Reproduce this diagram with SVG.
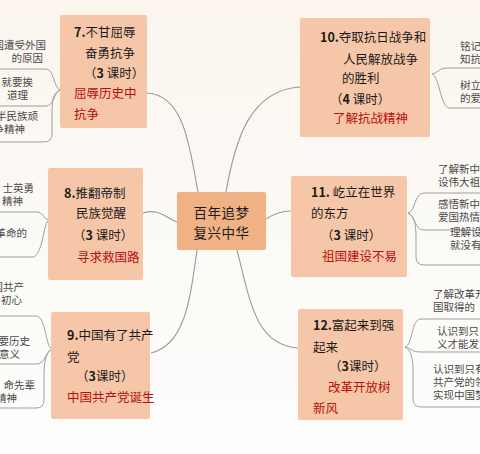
<svg xmlns="http://www.w3.org/2000/svg" width="480" height="454" viewBox="0 0 480 454">
<defs>
<linearGradient id="bg" x1="0" y1="0" x2="0" y2="1">
<stop offset="0" stop-color="#fbf5ee"/>
<stop offset="0.5" stop-color="#fcfaf6"/>
<stop offset="1" stop-color="#fdfdfc"/>
</linearGradient>
<style>
text{font-family:"Noto Sans CJK SC","Noto Sans",sans-serif;}
.box{fill:#f6c6a8;}
.center{fill:#f0b184;}
.t{font-size:12.5px;fill:#1a1a1a;}
.r{font-size:12.5px;fill:#b5100f;}
.c{font-size:13.5px;fill:#1a1a1a;letter-spacing:0.5px;}
.b{font-weight:bold;}
.leaf{font-size:10.5px;fill:#4a4a4a;}
.con{fill:none;stroke:#9a9a9a;stroke-width:1.1;}
.lf{fill:none;stroke:#a0a0a0;stroke-width:1;}
</style>
</defs>
<rect width="480" height="454" fill="url(#bg)"/>

<g id="connectors">
<path class="con" d="M147,93 C185,95 190,150 198,192"/>
<path class="con" d="M226,192 C235,140 250,90 300,87"/>
<path class="con" d="M143,213 C160,208 165,218 177,222"/>
<path class="con" d="M266,219 C275,213 282,211 291,211"/>
<path class="con" d="M197,250 C190,300 185,345 151,353"/>
<path class="con" d="M237,250 C250,300 255,345 298,348"/>
<path class="lf" d="M60,90 C54,88 54,69 46,69 H-2"/>
<path class="lf" d="M60,90 C54,92 54,106 46,106 H-2"/>
<path class="lf" d="M60,90 C53,93 52,100 52,115 L52,134 Q52,142 44,142 H-2"/>
<path class="lf" d="M49,220 C42,218 44,212 36,212 H-2"/>
<path class="lf" d="M49,220 C43,223 44,250 34,257 H-2"/>
<path class="lf" d="M52,349 C45,346 46,316 36,316 H-2"/>
<path class="lf" d="M52,349 C45,352 46,364 36,364 H-2"/>
<path class="lf" d="M52,349 C44,353 44,368 44,380 L44,400 Q44,408 36,408 H-2"/>
<path class="lf" d="M432,74 C440,72 438,68 448,68 H482"/>
<path class="lf" d="M432,74 C440,77 440,108 450,108 H482"/>
<path class="lf" d="M408,213 C416,211 414,193 424,193 H482"/>
<path class="lf" d="M408,213 C416,216 414,230 424,230 H482"/>
<path class="lf" d="M408,213 C415,217 416,225 416,240 L416,257 Q416,265 424,265 H482"/>
<path class="lf" d="M405,347 C413,345 411,319 421,319 H482"/>
<path class="lf" d="M405,347 C413,349 411,352 421,352 H482"/>
<path class="lf" d="M405,347 C412,351 413,360 413,372 L413,399 Q413,407 421,407 H482"/>
</g>

<g id="center">
<rect class="center" x="177" y="192" width="89" height="58" rx="2"/>
<text class="c" x="221.5" y="218" text-anchor="middle">百年追梦<tspan x="221.5" dy="20">复兴中华</tspan></text>
</g>

<g id="node7">
<rect class="box" x="60" y="15" width="87" height="113" rx="2"/>
<text class="t" x="74" y="37"><tspan class="b">7.</tspan>不甘屈辱</text>
<text class="t" x="85" y="58">奋勇抗争</text>
<text class="t" x="84" y="78">（<tspan class="b">3</tspan> 课时）</text>
<text class="r" x="74" y="98">屈辱历史中<tspan x="74" dy="21">抗争</tspan></text>
</g>
<g id="leaves7">
<text class="leaf" x="46" y="49" text-anchor="end">国遭受外国<tspan x="43" dy="13">的原因</tspan></text>
<text class="leaf" x="33" y="86" text-anchor="end">就要挨<tspan x="28" dy="13">道理</tspan></text>
<text class="leaf" x="38" y="120" text-anchor="end">半民族顽<tspan x="25" dy="13">争精神</tspan></text>
</g>

<g id="node8">
<rect class="box" x="48" y="168" width="95" height="112" rx="2"/>
<text class="t" x="64" y="198"><tspan class="b">8.</tspan>推翻帝制</text>
<text class="t" x="76" y="218">民族觉醒</text>
<text class="t" x="73" y="240">（<tspan class="b">3</tspan> 课时）</text>
<text class="r" x="77" y="262">寻求救国路</text>
</g>
<g id="leaves8">
<text class="leaf" x="34" y="192" text-anchor="end">士英勇<tspan x="23" dy="13">精神</tspan></text>
<text class="leaf" x="27" y="237" text-anchor="end">革命的</text>
</g>

<g id="node9">
<rect class="box" x="51" y="312" width="99" height="107" rx="2"/>
<text class="t" x="67" y="340"><tspan class="b">9.</tspan>中国有了共产<tspan x="67" dy="22">党</tspan></text>
<text class="t" x="76" y="381">（<tspan class="b">3</tspan>课时）</text>
<text class="r" x="67" y="402">中国共产党诞生</text>
</g>
<g id="leaves9">
<text class="leaf" x="24" y="291" text-anchor="end">国共产<tspan x="22" dy="13">初心</tspan></text>
<text class="leaf" x="30" y="345" text-anchor="end">要历史<tspan x="20" dy="13">意义</tspan></text>
<text class="leaf" x="35" y="389" text-anchor="end">命先辈<tspan x="17" dy="13">精神</tspan></text>
</g>

<g id="node10">
<rect class="box" x="300" y="18" width="130" height="119" rx="2"/>
<text class="t" x="320" y="42"><tspan class="b">10.</tspan>夺取抗日战争和</text>
<text class="t" x="343" y="64">人民解放战争</text>
<text class="t" x="342" y="83">的胜利</text>
<text class="t" x="330" y="104">（<tspan class="b">4</tspan> 课时）</text>
<text class="r" x="333" y="123">了解抗战精神</text>
</g>
<g id="leaves10">
<text class="leaf" x="460" y="50">铭记<tspan x="460" dy="13">知抗</tspan></text>
<text class="leaf" x="460" y="89">树立<tspan x="460" dy="13">的爱</tspan></text>
</g>

<g id="node11">
<rect class="box" x="291" y="176" width="116" height="101" rx="2"/>
<text class="t" x="311" y="197"><tspan class="b">11.</tspan> 屹立在世界<tspan x="311" dy="21">的东方</tspan></text>
<text class="t" x="321" y="240">（<tspan class="b">3</tspan> 课时）</text>
<text class="r" x="322" y="261">祖国建设不易</text>
</g>
<g id="leaves11">
<text class="leaf" x="438" y="173">了解新中<tspan x="438" dy="13">设伟大祖</tspan></text>
<text class="leaf" x="438" y="208">感悟新中<tspan x="438" dy="13">爱国热情</tspan></text>
<text class="leaf" x="450" y="236">理解设<tspan x="450" dy="13">就没有</tspan></text>
</g>

<g id="node12">
<rect class="box" x="298" y="309" width="105" height="111" rx="2"/>
<text class="t" x="313" y="330"><tspan class="b">12.</tspan>富起来到强<tspan x="313" dy="22">起来</tspan></text>
<text class="t" x="329" y="371">（<tspan class="b">3</tspan>课时）</text>
<text class="r" x="328" y="392">改革开放树<tspan x="313" dy="21">新风</tspan></text>
</g>
<g id="leaves12">
<text class="leaf" x="433" y="298">了解改革开<tspan x="433" dy="13">国取得的</tspan></text>
<text class="leaf" x="437" y="335">认识到只<tspan x="437" dy="13">义才能发</tspan></text>
<text class="leaf" x="433" y="373">认识到只有<tspan x="433" dy="13">共产党的领</tspan><tspan x="433" dy="13">实现中国梦</tspan></text>
</g>
</svg>
